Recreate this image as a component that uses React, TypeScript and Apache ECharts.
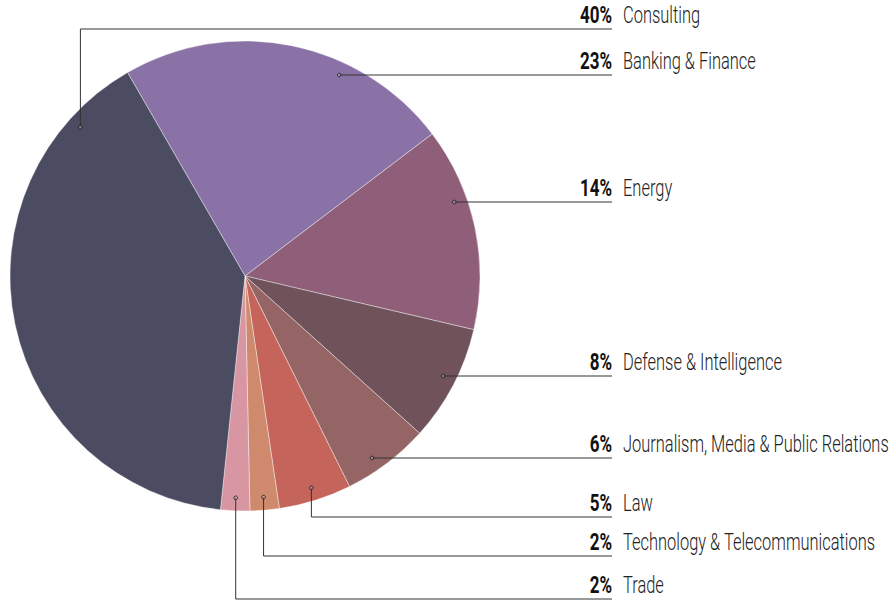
import React, { useEffect, useRef } from "react";
import * as echarts from "echarts";

const categories = [
  "Banking & Finance",
  "Energy",
  "Defense & Intelligence",
  "Journalism, Media & Public Relations",
  "Law",
  "Technology & Telecommunications",
  "Trade",
  "Consulting",
];
const values = [23, 14, 8, 6, 5, 2, 2, 40];
const colors = ["#8a72a6", "#8f5f79", "#6f525a", "#956565", "#c4645a", "#cf8a6e", "#d895a2", "#4b4c62"];

// label layout (pixels): horizontal leader-line heights and leader style
const lineYs = [75, 202, 376, 458, 517, 556, 599, 29];
const dotFrac: (number | null)[] = [null, null, null, null, 0.5, 0.5, 0.5, 0.876];

const W = 890;
const H = 602;
const CX = 245;
const CY = 276;
const R = 235;
const RD = 222;
const START = 120;
const LINE_END = 612;
const NAME_X = 623;
const SX_NAME = 0.685;
const SX_PCT = 0.74;
const FONT = "Roboto, 'Liberation Sans', sans-serif";

function dotPoint(i: number): [number, number] {
  const total = values.reduce((a, b) => a + b, 0);
  let cum = 0;
  for (let k = 0; k < i; k++) cum += values[k];
  const startA = START - (cum / total) * 360;
  const span = (values[i] / total) * 360;
  const f = dotFrac[i];
  if (f === null) {
    const dy = lineYs[i] - CY;
    return [CX + Math.sqrt(RD * RD - dy * dy), lineYs[i]];
  }
  const a = ((startA - f * span) * Math.PI) / 180;
  return [CX + RD * Math.cos(a), CY - RD * Math.sin(a)];
}

export default function App() {
  const ref = useRef<HTMLDivElement>(null);
  useEffect(() => {
    if (!ref.current) return;
    const chart = echarts.init(ref.current, undefined, { renderer: "svg" });
    const total = values.reduce((a, b) => a + b, 0);
    const graphics: any[] = [];
    values.forEach((v, i) => {
      const [x, y] = dotPoint(i);
      const ly = lineYs[i];
      graphics.push({
        type: "polyline",
        shape: { points: [[x, y], [x, ly], [LINE_END, ly]] },
        style: { stroke: "#333", lineWidth: 1, fill: null },
        z: 9,
      });
      graphics.push({
        type: "circle",
        shape: { cx: x, cy: y, r: 1.8 },
        style: { fill: "rgba(255,255,255,0.3)", stroke: "#222", lineWidth: 1 },
        z: 10,
      });
      graphics.push({
        type: "text",
        x: LINE_END,
        y: ly - 14,
        scaleX: SX_PCT,
        style: {
          text: `${Math.round((v / total) * 100)}%`,
          fontFamily: FONT,
          fontWeight: "bold",
          fontSize: 23,
          fill: "#111",
          align: "right",
          verticalAlign: "middle",
        },
        z: 10,
      });
      graphics.push({
        type: "text",
        x: NAME_X,
        y: ly - 14,
        scaleX: SX_NAME,
        style: {
          text: categories[i],
          fontFamily: FONT,
          fontWeight: 300,
          fontSize: 24,
          fill: "#222",
          align: "left",
          verticalAlign: "middle",
        },
        z: 10,
      });
    });
    chart.setOption({
      animation: false,
      backgroundColor: "#fff",
      graphic: graphics,
      series: [
        {
          type: "pie",
          center: [CX, CY],
          radius: R,
          startAngle: START,
          clockwise: true,
          label: { show: false },
          labelLine: { show: false },
          itemStyle: { borderColor: "#fff", borderWidth: 0.4 },
          data: categories.map((c, i) => ({
            name: c,
            value: values[i],
            itemStyle: { color: colors[i] },
          })),
        },
      ],
    });
    return () => chart.dispose();
  }, []);
  return <div ref={ref} style={{ position: "fixed", left: 0, top: 0, width: W, height: H }} />;
}
